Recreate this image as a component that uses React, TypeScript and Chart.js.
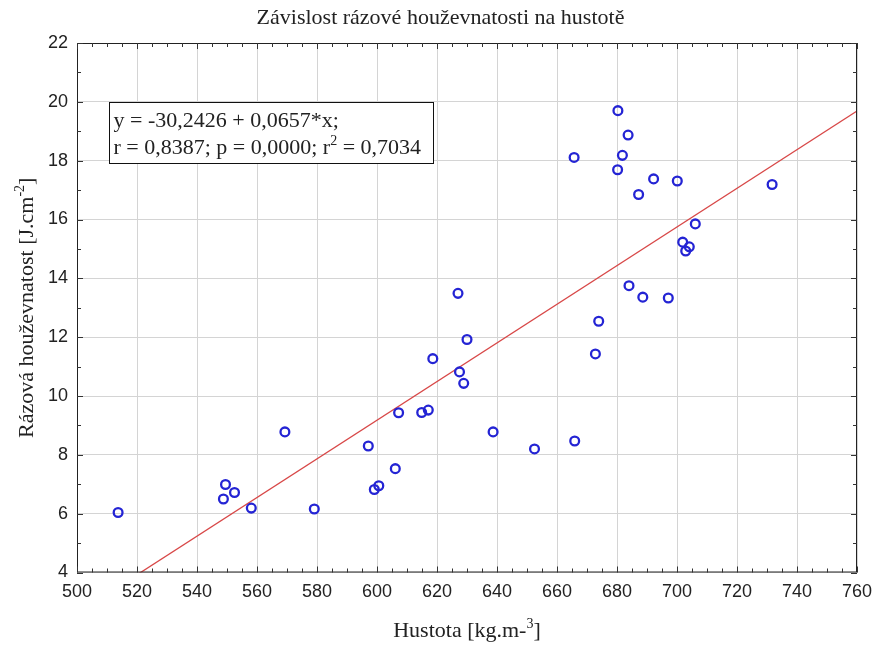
import React, { useEffect, useRef } from "react";
import { Chart, registerables } from "chart.js";

Chart.register(...registerables);

// ---- data ----
const density = [
  513.7, 548.8, 549.5, 552.5, 558.1, 569.3, 579.1, 597.1, 599.1, 600.6,
  606.1, 607.2, 614.9, 617.1, 618.6, 627.0, 627.5, 628.9, 630.0, 638.7,
  652.5, 665.7, 665.9, 672.8, 673.9, 680.3, 680.2, 681.8, 683.7, 684.0,
  687.2, 688.6, 692.2, 697.1, 700.1, 701.9, 702.9, 704.1, 706.1, 731.7,
];
const toughness = [
  6.04, 6.5, 6.99, 6.72, 6.19, 8.78, 6.16, 8.3, 6.82, 6.95,
  7.53, 9.43, 9.44, 9.52, 11.27, 13.49, 10.82, 10.43, 11.92, 8.78,
  8.2, 18.11, 8.47, 11.43, 12.54, 19.7, 17.69, 18.18, 18.87, 13.75,
  16.85, 13.36, 17.38, 13.33, 17.31, 15.23, 14.93, 15.07, 15.85, 17.19,
];
const fitIntercept = -30.2426;
const fitSlope = 0.0657;
const xMin = 500;
const xMax = 760;
const xStep = 20;
const xMinorStep = 5;
const yMin = 4;
const yMax = 22;
const yStep = 2;
const yMinorStep = 1;

const chartTitle = "Závislost rázové houževnatosti na hustotě";
const xTitleParts: [string, boolean][] = [["Hustota [kg.m-", false], ["3", true], ["]", false]];
const yTitleParts: [string, boolean][] = [["Rázová houževnatost [J.cm", false], ["-2", true], ["]", false]];
const statLine1: [string, boolean][] = [["y = -30,2426 + 0,0657*x;", false]];
const statLine2: [string, boolean][] = [["r = 0,8387; p = 0,0000; r", false], ["2", true], [" = 0,7034", false]];

const SERIF = "'Liberation Serif', 'Times New Roman', serif";
const SANS = "'Liberation Sans', Arial, sans-serif";

function drawParts(
  ctx: CanvasRenderingContext2D,
  parts: [string, boolean][],
  x: number,
  y: number,
  size: number,
  align: "left" | "center"
) {
  const supSize = Math.round(size * 0.62);
  const widths = parts.map(([t, sup]) => {
    ctx.font = `${sup ? supSize : size}px ${SERIF}`;
    return ctx.measureText(t).width;
  });
  const total = widths.reduce((a, b) => a + b, 0);
  let cx = align === "center" ? x - total / 2 : x;
  ctx.textAlign = "left";
  ctx.textBaseline = "alphabetic";
  parts.forEach(([t, sup], i) => {
    ctx.font = `${sup ? supSize : size}px ${SERIF}`;
    ctx.fillText(t, cx, sup ? y - size * 0.4 : y);
    cx += widths[i];
  });
}

const framePlugin = {
  id: "framePlugin",
  afterDraw(chart: any) {
    const { ctx, chartArea } = chart;
    const xs = chart.scales.x;
    const ys = chart.scales.y;
    const { left, right, top, bottom } = chartArea;
    ctx.save();
    // frame
    ctx.strokeStyle = "#222";
    ctx.lineWidth = 1;
    ctx.strokeRect(left + 0.5, top + 0.5, right - left - 1, bottom - top - 1);
    // ticks (inward)
    ctx.strokeStyle = "#333";
    ctx.beginPath();
    for (let v = xMin; v <= xMax + 1e-9; v += xMinorStep) {
      const len = v % xStep === 0 ? 6 : 4;
      const px = Math.round(xs.getPixelForValue(v)) + 0.5;
      ctx.moveTo(px, bottom);
      ctx.lineTo(px, bottom - len);
      ctx.moveTo(px, top);
      ctx.lineTo(px, top + len);
    }
    for (let v = yMin; v <= yMax + 1e-9; v += yMinorStep) {
      const len = v % yStep === 0 ? 6 : 4;
      const py = Math.round(ys.getPixelForValue(v)) + 0.5;
      ctx.moveTo(left, py);
      ctx.lineTo(left + len, py);
      ctx.moveTo(right, py);
      ctx.lineTo(right - len, py);
    }
    ctx.stroke();

    // titles
    ctx.fillStyle = "#222";
    ctx.font = `22px ${SERIF}`;
    ctx.textAlign = "center";
    ctx.textBaseline = "alphabetic";
    ctx.fillText(chartTitle, chart.width / 2 + 3, 24);
    drawParts(ctx, xTitleParts, (left + right) / 2, 637, 22, "center");
    ctx.save();
    ctx.translate(33, (top + bottom) / 2);
    ctx.rotate(-Math.PI / 2);
    drawParts(ctx, yTitleParts, 0, 0, 22, "center");
    ctx.restore();

    // statistics box
    const bx = left + 32.5;
    const by = top + 59.5;
    const bw = 324;
    const bh = 61;
    ctx.fillStyle = "#fff";
    ctx.fillRect(bx, by, bw, bh);
    ctx.strokeStyle = "#111";
    ctx.lineWidth = 1;
    ctx.strokeRect(bx, by, bw, bh);
    ctx.fillStyle = "#222";
    drawParts(ctx, statLine1, bx + 4, by + 24.5, 22, "left");
    drawParts(ctx, statLine2, bx + 4, by + 51.5, 22, "left");
    ctx.restore();
  },
};

export default function App() {
  const canvasRef = useRef<HTMLCanvasElement | null>(null);

  useEffect(() => {
    if (!canvasRef.current) return;
    const points = density.map((x, i) => ({ x, y: toughness[i] }));
    const fitLine = [
      { x: xMin, y: fitIntercept + fitSlope * xMin },
      { x: xMax, y: fitIntercept + fitSlope * xMax },
    ];
    const chart = new Chart(canvasRef.current, {
      type: "scatter",
      data: {
        datasets: [
          {
            label: "data",
            data: points,
            pointStyle: "circle",
            pointRadius: 4.4,
            pointBorderWidth: 2.3,
            pointBackgroundColor: "rgba(0,0,0,0)",
            pointBorderColor: "#2424d4",
            showLine: false,
          } as any,
          {
            label: "fit",
            type: "line",
            data: fitLine,
            borderColor: "#d84848",
            borderWidth: 1.3,
            pointRadius: 0,
            fill: false,
            tension: 0,
          } as any,
        ],
      },
      options: {
        animation: false,
        responsive: false,
        events: [],
        layout: { padding: { top: 43, right: 18, left: 0, bottom: 0 } },
        plugins: {
          legend: { display: false },
          title: { display: false },
          tooltip: { enabled: false },
        },
        scales: {
          x: {
            type: "linear",
            min: xMin,
            max: xMax,
            afterFit: (s: any) => {
              s.height = 75.5;
              s.paddingLeft = 0;
              s.paddingRight = 0;
            },
            border: { display: false },
            grid: { color: "#d4d4d4", lineWidth: 1, drawTicks: false },
            ticks: {
              stepSize: xStep,
              padding: 9,
              color: "#222",
              font: { family: SANS, size: 18 },
              maxRotation: 0,
            },
          },
          y: {
            type: "linear",
            min: yMin,
            max: yMax,
            afterFit: (s: any) => {
              s.width = 77;
              s.paddingTop = 0;
              s.paddingBottom = 0;
            },
            border: { display: false },
            grid: { color: "#d4d4d4", lineWidth: 1, drawTicks: false },
            ticks: {
              stepSize: yStep,
              padding: 9,
              color: "#222",
              font: { family: SANS, size: 18 },
            },
          },
        },
      },
      plugins: [framePlugin],
    });
    return () => chart.destroy();
  }, []);

  return (
    <div style={{ position: "absolute", left: 0, top: 0, width: 875, height: 648, background: "#fff" }}>
      <canvas ref={canvasRef} width={875} height={648} style={{ display: "block" }} />
    </div>
  );
}
